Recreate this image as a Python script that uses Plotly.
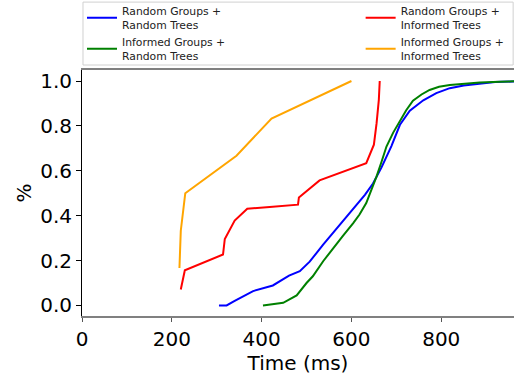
import plotly.graph_objects as go

# Random Groups + Random Trees (blue)
rr_ms = [305, 322, 340, 355, 381, 425, 461, 485, 507, 537, 567, 604, 630, 648, 667, 689, 708, 730, 760, 789, 819, 850, 886, 920, 960, 1000]
rr_p = [0.0, 0.0, 0.02, 0.036, 0.064, 0.089, 0.133, 0.153, 0.195, 0.271, 0.343, 0.427, 0.493, 0.543, 0.615, 0.71, 0.805, 0.868, 0.914, 0.946, 0.968, 0.98, 0.988, 0.995, 0.998, 1.0]

# Informed Groups + Random Trees (green)
ir_ms = [403, 448, 462, 478, 500, 514, 537, 559, 581, 604, 618, 633, 648, 656, 667, 678, 693, 708, 722, 737, 756, 774, 795, 819, 850, 886, 930, 960, 1000]
ir_p = [0.0, 0.012, 0.027, 0.045, 0.1, 0.13, 0.197, 0.256, 0.31, 0.367, 0.405, 0.456, 0.53, 0.575, 0.64, 0.708, 0.77, 0.822, 0.87, 0.912, 0.94, 0.96, 0.974, 0.982, 0.988, 0.993, 0.997, 1.0, 1.0]

# Random Groups + Informed Trees (red)
ri_ms = [220, 229, 314, 318, 340, 368, 418, 481, 483, 529, 633, 650, 656, 661, 663]
ri_p = [0.071, 0.157, 0.227, 0.296, 0.378, 0.431, 0.439, 0.449, 0.481, 0.557, 0.634, 0.716, 0.812, 0.916, 1.0]

# Informed Groups + Informed Trees (orange)
ii_ms = [217, 220, 230, 344, 422, 600]
ii_p = [0.167, 0.333, 0.5, 0.667, 0.833, 1.0]

series = [
    ("Random Groups +<br>Random Trees", rr_ms, rr_p, "blue", "legend"),
    ("Informed Groups +<br>Random Trees", ir_ms, ir_p, "green", "legend"),
    ("Random Groups +<br>Informed Trees", ri_ms, ri_p, "red", "legend2"),
    ("Informed Groups +<br>Informed Trees", ii_ms, ii_p, "orange", "legend2"),
]

x_ticks = [0, 200, 400, 600, 800]
y_ticks = [0.0, 0.2, 0.4, 0.6, 0.8, 1.0]

fig = go.Figure()
for name, xs, ys, col, lg in series:
    fig.add_trace(go.Scatter(x=xs, y=ys, mode="lines", name=name, legend=lg,
                             line=dict(color=col, width=2)))

font = "DejaVu Sans"
leg_common = dict(orientation="v", yanchor="top", y=1.296, xanchor="left",
                  font=dict(size=10.8, family=font, color="#222"),
                  borderwidth=0, bgcolor="rgba(0,0,0,0)", tracegroupgap=0,
                  traceorder="normal")
fig.update_layout(
    width=514, height=376,
    margin=dict(l=82, r=0, t=70, b=60, autoexpand=False),
    paper_bgcolor="white", plot_bgcolor="white",
    font=dict(family=font, color="black", size=20),
    showlegend=True,
    legend=dict(x=0.0, **leg_common),
    legend2=dict(x=0.645, **leg_common),
    shapes=[dict(type="rect", xref="paper", yref="paper",
                 x0=0.0023, x1=0.998, y0=1.0203, y1=1.276,
                 line=dict(color="#d0d0d0", width=1), fillcolor="rgba(0,0,0,0)")],
    xaxis=dict(range=[0, 962], tickvals=x_ticks, ticktext=[str(v) for v in x_ticks],
               showgrid=False, zeroline=False, showline=True, linecolor="#808080",
               linewidth=2, mirror=True, ticks="outside", ticklen=4, tickcolor="#555",
               tickfont=dict(size=20), title=dict(text="Time (ms)", font=dict(size=20), standoff=0)),
    yaxis=dict(range=[-0.047, 1.049], tickvals=y_ticks, ticktext=[f"{v:.1f}" for v in y_ticks],
               showgrid=False, zeroline=False, showline=True, linecolor="black",
               linewidth=1, mirror=False, ticks="outside", ticklen=5, tickcolor="black",
               tickfont=dict(size=20), title=dict(text="%", font=dict(size=20), standoff=3)),
)

fig.write_html("out.html", config={"displayModeBar": False},
               post_script="document.body.style.margin='0';document.body.style.overflow='hidden';")
